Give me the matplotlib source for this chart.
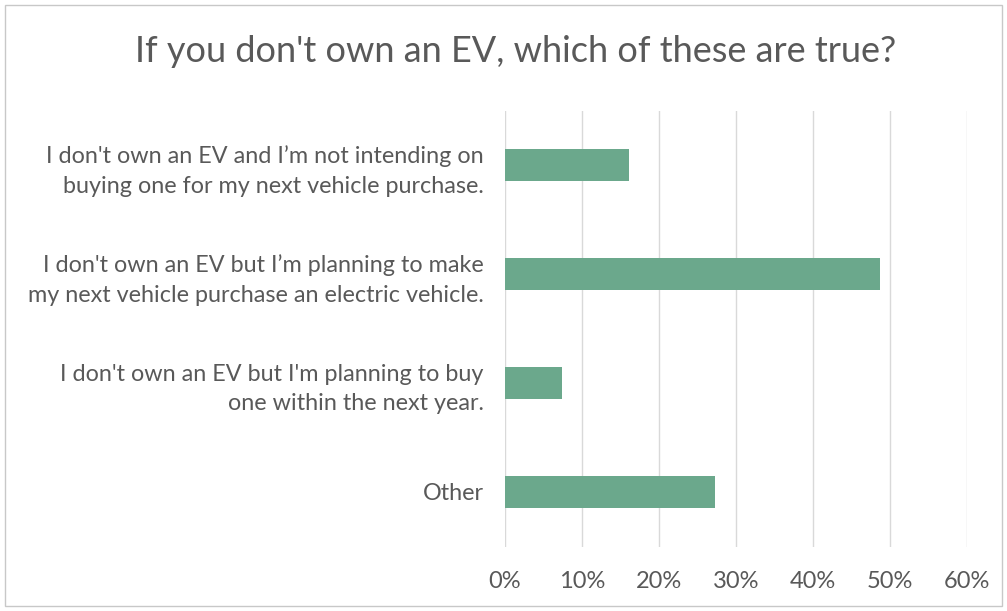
import matplotlib.pyplot as plt
from matplotlib.patches import Rectangle
from matplotlib.ticker import PercentFormatter

categories = [
    "I don't own an EV and I\u2019m not intending on\nbuying one for my next vehicle purchase.",
    "I don't own an EV but I\u2019m planning to make\nmy next vehicle purchase an electric vehicle.",
    "I don't own an EV but I'm planning to buy\none within the next year.",
    "Other",
]
shares = [16.1, 48.7, 7.4, 27.3]
ticks = [0, 10, 20, 30, 40, 50, 60]

plt.rcParams["font.family"] = ["Lato", "DejaVu Sans"]
text_color = "#595959"

fig = plt.figure(figsize=(10.07, 6.11), dpi=100)
ax = fig.add_axes([505 / 1007, 1 - 546.5 / 611, 462 / 1007, 436 / 611])

ypos = list(range(len(categories)))
ax.barh(ypos, shares, height=0.3, color="#6BA88C", zorder=3)
ax.set_ylim(len(categories) - 0.5, -0.5)
ax.set_xlim(0, 60)
ax.set_xticks(ticks)
ax.xaxis.set_major_formatter(PercentFormatter(decimals=0))
ax.set_yticks(ypos)
ax.set_yticklabels(categories, fontsize=16.8, color=text_color, ha="right",
                   linespacing=1.5)
ax.tick_params(axis="y", length=0, pad=15.5)
ax.tick_params(axis="x", length=0, pad=18, labelsize=17, labelcolor=text_color)
ax.grid(axis="x", color="#D9D9D9", linewidth=1, zorder=0)
for s in ax.spines.values():
    s.set_visible(False)

fig.text(0.512, 1 - 52 / 611, "If you don't own an EV, which of these are true?",
         ha="center", va="center", fontsize=26, color=text_color)

# thin chart-area frame
fig.patches.append(Rectangle((5 / 1007, 5 / 611), 997 / 1007, 601 / 611,
                             transform=fig.transFigure, fill=False,
                             edgecolor="#C8C8C8", linewidth=1))

fig.savefig("out.png", dpi=100)
